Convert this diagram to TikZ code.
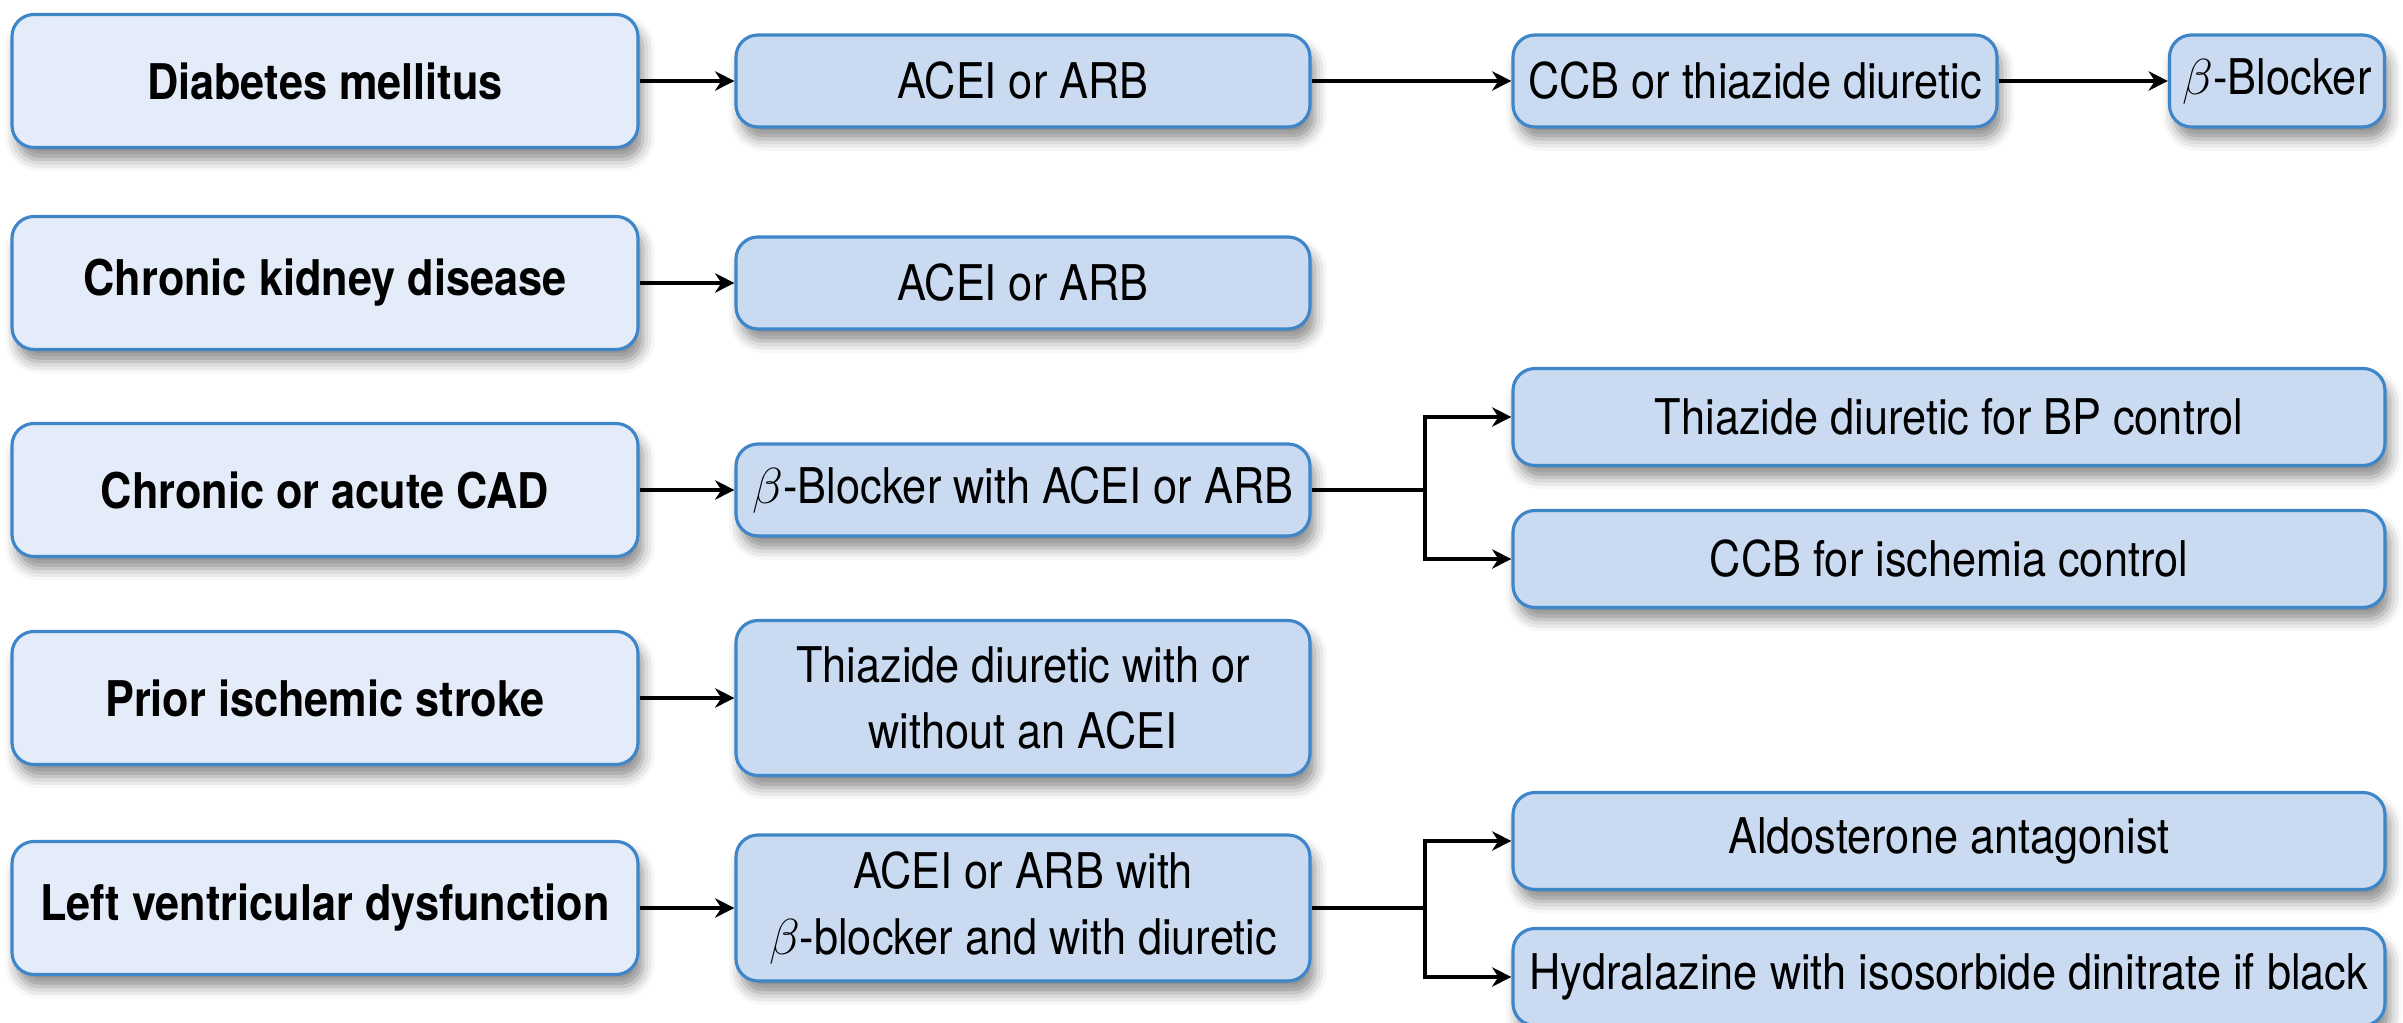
\documentclass[tikz,border=0pt]{standalone}
\usepackage{fontspec}
\setmainfont{TeX Gyre Heros}[FakeStretch=0.88]
\usetikzlibrary{arrows.meta,shadows.blur}
\definecolor{boxline}{HTML}{3E86C8}
\definecolor{condfill}{HTML}{E3ECF8}
\definecolor{drugfill}{HTML}{C9DAF1}
\tikzset{
  box/.style={draw=boxline, line width=0.9pt, rounded corners=2.2mm, align=center,
    inner sep=2pt, font=\fontsize{14}{19}\selectfont,
    blur shadow={shadow xshift=0.5mm, shadow yshift=-1.2mm, shadow blur radius=1.2mm, shadow opacity=45}},
  cond/.style={box, fill=condfill, minimum width=6.26cm, minimum height=1.33cm, font=\fontsize{14}{19}\selectfont\bfseries},
  drug/.style={box, fill=drugfill, minimum width=5.74cm, minimum height=0.92cm},
  wide/.style={box, fill=drugfill, minimum width=8.72cm, minimum height=0.97cm},
  link/.style={-{Stealth[length=5.5pt,width=5.5pt]}, line width=0.9pt},
}
\begin{document}
\begin{tikzpicture}
    \useasboundingbox (0,0) rectangle (24.03,-10.23);
    % Nodes
    \node[cond] (DM) at (3.25,-0.81) {Diabetes mellitus};
    \node[cond] (CKD) at (3.25,-2.83) {Chronic kidney disease};
    \node[cond] (CAD) at (3.25,-4.90) {Chronic or acute CAD};
    \node[cond] (IS) at (3.25,-6.98) {Prior ischemic stroke};
    \node[cond] (LVD) at (3.25,-9.08) {Left ventricular dysfunction};
    \node[drug] (DMa) at (10.23,-0.81) {ACEI or ARB};
    \node[drug] (CKDa) at (10.23,-2.83) {ACEI or ARB};
    \node[drug] (CADa) at (10.23,-4.90) {\(\beta\)-Blocker with ACEI or ARB};
    \node[drug, minimum height=1.55cm] (ISa) at (10.23,-6.98) {Thiazide diuretic with or\\ without an ACEI};
    \node[drug, minimum height=1.46cm] (LVDa) at (10.23,-9.08) {ACEI or ARB with\\ \(\beta\)-blocker and with diuretic};
    \node[drug, minimum width=4.84cm] (DMb) at (17.55,-0.81) {CCB or thiazide diuretic};
    \node[drug, minimum width=2.15cm] (DMc) at (22.77,-0.81) {\(\beta\)-Blocker};
    \node[wide] (CADb) at (19.49,-4.17) {Thiazide diuretic for BP control};
    \node[wide] (CADc) at (19.49,-5.59) {CCB for ischemia control};
    \node[wide] (LVDb) at (19.49,-8.41) {Aldosterone antagonist};
    \node[wide] (LVDc) at (19.49,-9.77) {Hydralazine with isosorbide dinitrate if black};
    \coordinate (CADj) at (14.25,-4.90);
    \coordinate (LVDj) at (14.25,-9.08);
    % Arrows
    \draw[link] (DM) -- (DMa);
    \draw[link] (CKD) -- (CKDa);
    \draw[link] (CAD) -- (CADa);
    \draw[link] (IS) -- (ISa);
    \draw[link] (LVD) -- (LVDa);
    \draw[link] (DMa) -- (DMb);
    \draw[link] (DMb) -- (DMc);
    \draw[link] (CADa.east) -- (CADj) |- (CADb.west);
    \draw[link] (CADj) |- (CADc.west);
    \draw[link] (LVDa.east) -- (LVDj) |- (LVDb.west);
    \draw[link] (LVDj) |- (LVDc.west);
\end{tikzpicture}
\end{document}
